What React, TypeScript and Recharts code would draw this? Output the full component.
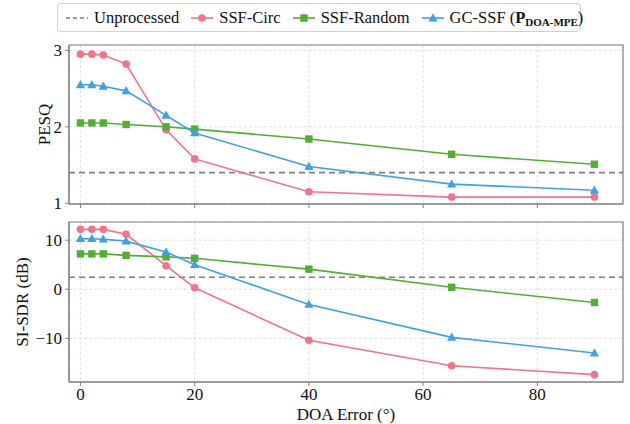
import React from "react"
import {
  LineChart,
  Line,
  XAxis,
  YAxis,
  CartesianGrid,
  ReferenceLine,
  ReferenceArea,
} from "recharts"

const doaError = [0, 2, 4, 8, 15, 20, 40, 65, 90]
const xTicks = [0, 20, 40, 60, 80]

const pesqCirc = [2.95, 2.95, 2.94, 2.82, 1.96, 1.58, 1.15, 1.08, 1.08]
const pesqRandom = [2.05, 2.05, 2.05, 2.03, 2.0, 1.97, 1.84, 1.64, 1.51]
const pesqGc = [2.55, 2.55, 2.53, 2.47, 2.15, 1.92, 1.48, 1.25, 1.17]
const pesqUnprocessed = 1.4
const pesqTicks = [1, 2, 3]

const sdrCirc = [12.2, 12.2, 12.2, 11.2, 4.8, 0.3, -10.4, -15.6, -17.4]
const sdrRandom = [7.2, 7.2, 7.2, 6.9, 6.6, 6.3, 4.1, 0.4, -2.7]
const sdrGc = [10.3, 10.3, 10.2, 9.8, 7.6, 5.0, -3.1, -9.8, -13.0]
const sdrUnprocessed = 2.45
const sdrTicks = [-10, 0, 10]

const RED = "#f77189"
const GREEN = "#50b131"
const BLUE = "#3ba3ec"
const GRAY = "#808080"
const FONT = "'Liberation Serif', 'DejaVu Serif', serif"

const xDomain = [-2, 95]

const pesqData = doaError.map((x, i) => ({
  x,
  circ: pesqCirc[i],
  random: pesqRandom[i],
  gc: pesqGc[i],
}))
const sdrData = doaError.map((x, i) => ({
  x,
  circ: sdrCirc[i],
  random: sdrRandom[i],
  gc: sdrGc[i],
}))

const tickStyle = { fill: "#111", fontSize: 17, fontFamily: FONT }
const minus = (v: number) => String(v).replace("-", "\u2212")

const circleDot = (p: any) => (
  <circle key={p.index} cx={p.cx} cy={p.cy} r={3.8} fill={RED} />
)
const squareDot = (p: any) => (
  <rect key={p.index} x={p.cx - 3.7} y={p.cy - 3.7} width={7.4} height={7.4} fill={GREEN} />
)
const triangleDot = (p: any) => (
  <polygon
    key={p.index}
    points={`${p.cx},${p.cy - 4.8} ${p.cx - 4.6},${p.cy + 3.4} ${p.cx + 4.6},${p.cy + 3.4}`}
    fill={BLUE}
  />
)

const yLabel = (text: string, dx: number) => (props: any) => {
  const vb = props.viewBox
  const cx = vb.x + dx
  const cy = vb.y + vb.height / 2
  return (
    <text
      x={cx}
      y={cy}
      transform={`rotate(-90 ${cx} ${cy})`}
      textAnchor="middle"
      dominantBaseline="central"
      fontSize={17}
      fontFamily={FONT}
      fill="#111"
    >
      {text}
    </text>
  )
}

const xLabel = (props: any) => {
  const vb = props.viewBox
  return (
    <text
      x={vb.x + vb.width / 2}
      y={vb.y + 38}
      textAnchor="middle"
      fontSize={17}
      fontFamily={FONT}
      fill="#111"
    >
      DOA Error (°)
    </text>
  )
}

function Panel({
  data,
  top,
  height,
  marginTop,
  xHeight,
  showX,
  yDomain,
  yTicks,
  unprocessed,
  label,
  labelDx,
}: any) {
  return (
    <div style={{ position: "absolute", left: 0, top }}>
      <LineChart
        width={630}
        height={height}
        data={data}
        margin={{ top: marginTop, right: 7, bottom: 0, left: 0 }}
      >
        <CartesianGrid stroke="#e0e0e0" strokeDasharray="3 2" />
        <XAxis
          dataKey="x"
          type="number"
          domain={xDomain}
          ticks={xTicks}
          allowDataOverflow
          height={xHeight}
          stroke={GRAY}
          tickSize={4}
          tickMargin={2}
          tick={tickStyle}
          tickFormatter={showX ? minus : () => ""}
          label={showX ? xLabel : undefined}
        />
        <YAxis
          type="number"
          domain={yDomain}
          ticks={yTicks}
          allowDataOverflow
          width={69}
          stroke={GRAY}
          tickSize={4}
          tickMargin={3}
          tick={tickStyle}
          tickFormatter={minus}
          label={yLabel(label, labelDx)}
        />
        {/* axes frame */}
        <ReferenceArea
          x1={xDomain[0]}
          x2={xDomain[1]}
          y1={yDomain[0]}
          y2={yDomain[1]}
          fill="none"
          stroke={GRAY}
          strokeWidth={1.2}
          ifOverflow="visible"
        />
        <ReferenceLine
          y={unprocessed}
          stroke={GRAY}
          strokeWidth={1.6}
          strokeDasharray="6 4"
        />
        <Line
          dataKey="circ"
          stroke={RED}
          strokeWidth={1.6}
          dot={circleDot}
          isAnimationActive={false}
        />
        <Line
          dataKey="random"
          stroke={GREEN}
          strokeWidth={1.6}
          dot={squareDot}
          isAnimationActive={false}
        />
        <Line
          dataKey="gc"
          stroke={BLUE}
          strokeWidth={1.6}
          dot={triangleDot}
          isAnimationActive={false}
        />
      </LineChart>
    </div>
  )
}

function LegendIcon({ color, kind }: { color: string; kind: string }) {
  return (
    <svg width={22} height={12} style={{ marginRight: 6 }}>
      <line
        x1={0}
        x2={22}
        y1={6}
        y2={6}
        stroke={color}
        strokeWidth={1.6}
        strokeDasharray={kind === "dash" ? "4 3" : undefined}
      />
      {kind === "circle" && <circle cx={11} cy={6} r={3.8} fill={color} />}
      {kind === "square" && <rect x={7.3} y={2.3} width={7.4} height={7.4} fill={color} />}
      {kind === "triangle" && (
        <polygon points="11,1.2 6.4,9.4 15.6,9.4" fill={color} />
      )}
    </svg>
  )
}

function TopLegend() {
  const item = { display: "flex", alignItems: "center", marginRight: 12 }
  return (
    <div
      style={{
        position: "absolute",
        left: 57,
        top: 3,
        width: 524,
        height: 29,
        border: "1px solid #d0d0d0",
        borderRadius: 4,
        display: "flex",
        alignItems: "center",
        paddingLeft: 8,
        boxSizing: "border-box",
        fontFamily: FONT,
        fontSize: 16.5,
        color: "#111",
        whiteSpace: "nowrap",
        background: "#fff",
      }}
    >
      <div style={item}>
        <LegendIcon color={GRAY} kind="dash" />
        Unprocessed
      </div>
      <div style={item}>
        <LegendIcon color={RED} kind="circle" />
        SSF-Circ
      </div>
      <div style={item}>
        <LegendIcon color={GREEN} kind="square" />
        SSF-Random
      </div>
      <div style={{ ...item, marginRight: 0 }}>
        <LegendIcon color={BLUE} kind="triangle" />
        <span>
          GC-SSF (<b>P</b>
          <b style={{ fontSize: 11, verticalAlign: "-3px" }}>DOA-MPE</b>)
        </span>
      </div>
    </div>
  )
}

export default function App() {
  return (
    <div
      style={{
        position: "absolute",
        left: 0,
        top: 0,
        width: 630,
        height: 424,
        background: "#fff",
      }}
    >
      <Panel
        data={pesqData}
        top={0}
        height={215}
        marginTop={45}
        xHeight={11}
        showX={false}
        yDomain={[0.99, 3.07]}
        yTicks={pesqTicks}
        unprocessed={pesqUnprocessed}
        label="PESQ"
        labelDx={44}
      />
      <Panel
        data={sdrData}
        top={215}
        height={209}
        marginTop={7}
        xHeight={42}
        showX
        yDomain={[-18.9, 13.7]}
        yTicks={sdrTicks}
        unprocessed={sdrUnprocessed}
        label="SI-SDR (dB)"
        labelDx={22}
      />
      <TopLegend />
    </div>
  )
}
